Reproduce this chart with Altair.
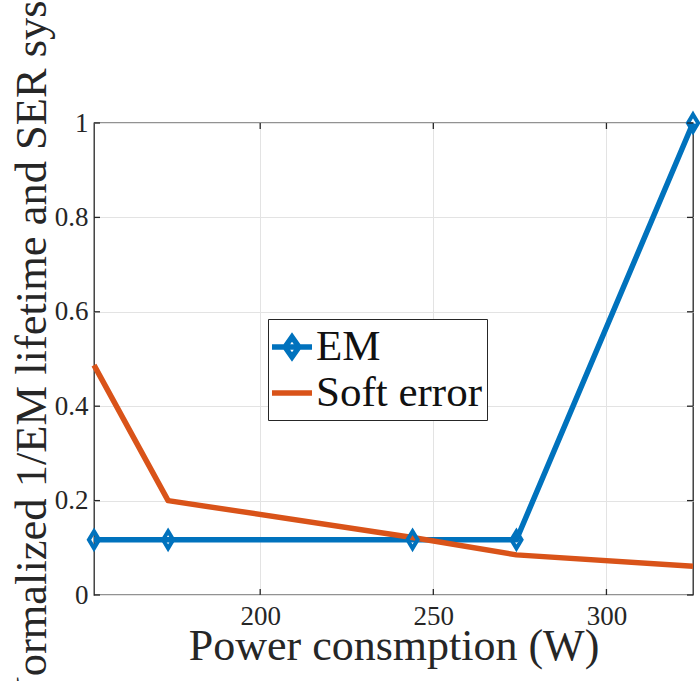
import altair as alt
import pandas as pd

# Measured series (normalized)
power = [152, 173.4, 244, 274, 325]
em = [0.117, 0.117, 0.117, 0.117, 1.0]
soft_error = [0.487, 0.200, 0.122, 0.085, 0.061]

series_names = ["EM", "Soft error"]
series_colors = ["#0072BD", "#D95319"]
x_ticks = [200, 250, 300]
y_ticks = [0, 0.2, 0.4, 0.6, 0.8, 1]

W, H = 599, 472
FONT = "Liberation Serif"
AX = "#262626"
TICK_LEN = 6

# Diamond marker, and legend glyphs (line + diamond / line only)
DIAMOND = "M0,-1L0.6,0L0,1L-0.6,0Z"
LEG_EM = "M-1,0H1M0,-0.5L0.35,0L0,0.5L-0.35,0Z"
LEG_SE = "M-1,0H1"

df = pd.DataFrame(
    {
        "power": power * 2,
        "value": em + soft_error,
        "series": ["EM"] * len(power) + ["Soft error"] * len(power),
    }
)

x_scale = alt.Scale(domain=[152, 325], nice=False, zero=False)
y_scale = alt.Scale(domain=[0, 1], nice=False)

x_enc = alt.X(
    "power:Q",
    scale=x_scale,
    axis=alt.Axis(
        values=x_ticks,
        title="Power consmption (W)",
        grid=True,
        gridColor="#e3e3e3",
        gridWidth=1,
        domain=False,
        ticks=False,
        labelFont=FONT,
        labelFontSize=27,
        labelColor=AX,
        labelPadding=8,
        titleFont=FONT,
        titleFontSize=44,
        titleFontWeight="normal",
        titleColor=AX,
        titleBaseline="alphabetic",
        titleY=64,
    ),
)
y_enc = alt.Y(
    "value:Q",
    scale=y_scale,
    axis=alt.Axis(
        values=y_ticks,
        format=".1~f",
        title="Normalized 1/EM lifetime and SER system",
        grid=True,
        gridColor="#e3e3e3",
        gridWidth=1,
        domain=False,
        ticks=False,
        labelFont=FONT,
        labelFontSize=27,
        labelColor=AX,
        labelPadding=6,
        titleFont=FONT,
        titleFontSize=44.5,
        titleFontWeight="normal",
        titleColor=AX,
        titleAngle=270,
        titleAlign="left",
        titleBaseline="alphabetic",
        titleX=-49,
        titleY=585,
        titleLimit=3000,
    ),
)
xs = alt.X("power:Q", scale=x_scale)
ys = alt.Y("value:Q", scale=y_scale)

base = alt.Chart(df)
em_data = base.transform_filter(alt.datum.series == "EM")
se_data = base.transform_filter(alt.datum.series == "Soft error")

line_em = em_data.mark_line(
    color=series_colors[0], strokeWidth=5.5, strokeJoin="round"
).encode(x=x_enc, y=y_enc)
line_se = se_data.mark_line(
    color=series_colors[1], strokeWidth=5.5, strokeJoin="round"
).encode(x=xs, y=ys)
markers = em_data.mark_point(
    shape=DIAMOND, size=289, filled=False, strokeWidth=4, opacity=1,
    color=series_colors[0],
).encode(x=xs, y=ys)

leg = alt.Legend(
    orient="none",
    legendX=174,
    legendY=196,
    title=None,
    labelFont=FONT,
    labelFontSize=43,
    labelColor="#111111",
    labelOffset=1,
    labelLimit=600,
    symbolSize=1600,
    symbolOffset=-4,
    symbolStrokeWidth=5.5,
    symbolFillColor="transparent",
    padding=5,
    rowPadding=1,
    strokeColor=AX,
    fillColor="white",
    cornerRadius=0,
)

# Legend-only layer: no marks drawn, the scales give the entries
legend_layer = (
    base.transform_filter("false")
    .mark_point(filled=False, opacity=1)
    .encode(
        x=xs,
        y=ys,
        color=alt.Color(
            "series:N",
            scale=alt.Scale(domain=series_names, range=series_colors),
            legend=leg,
        ),
        shape=alt.Shape(
            "series:N",
            scale=alt.Scale(domain=series_names, range=[LEG_EM, LEG_SE]),
            legend=leg,
        ),
    )
)

# Inward tick marks on all four sides of the box
xt = alt.Chart(pd.DataFrame({"power": x_ticks}))
yt = alt.Chart(pd.DataFrame({"value": y_ticks}))
tick_style = dict(color=AX, strokeWidth=1.3)
bottom_ticks = xt.mark_rule(**tick_style).encode(x=xs, y=alt.value(H), y2=alt.value(H - TICK_LEN))
top_ticks = xt.mark_rule(**tick_style).encode(x=xs, y=alt.value(0), y2=alt.value(TICK_LEN))
left_ticks = yt.mark_rule(**tick_style).encode(y=ys, x=alt.value(0), x2=alt.value(TICK_LEN))
right_ticks = yt.mark_rule(**tick_style).encode(y=ys, x=alt.value(W - TICK_LEN), x2=alt.value(W))

chart = (
    alt.layer(
        line_em, line_se, markers, legend_layer,
        bottom_ticks, top_ticks, left_ticks, right_ticks,
    )
    .properties(
        width=W,
        height=H,
        autosize=alt.AutoSizeParams(type="none"),
        padding={"left": 94, "top": 123, "right": 7, "bottom": 86},
        background="white",
    )
    .configure(font=FONT)
    .configure_axis(labelFont=FONT, titleFont=FONT, labelFontSize=27)
    .configure_legend(labelFont=FONT)
    .configure_view(stroke=AX, strokeWidth=1.3)
)

chart.save("out.html", embed_options={"renderer": "svg", "actions": False})
